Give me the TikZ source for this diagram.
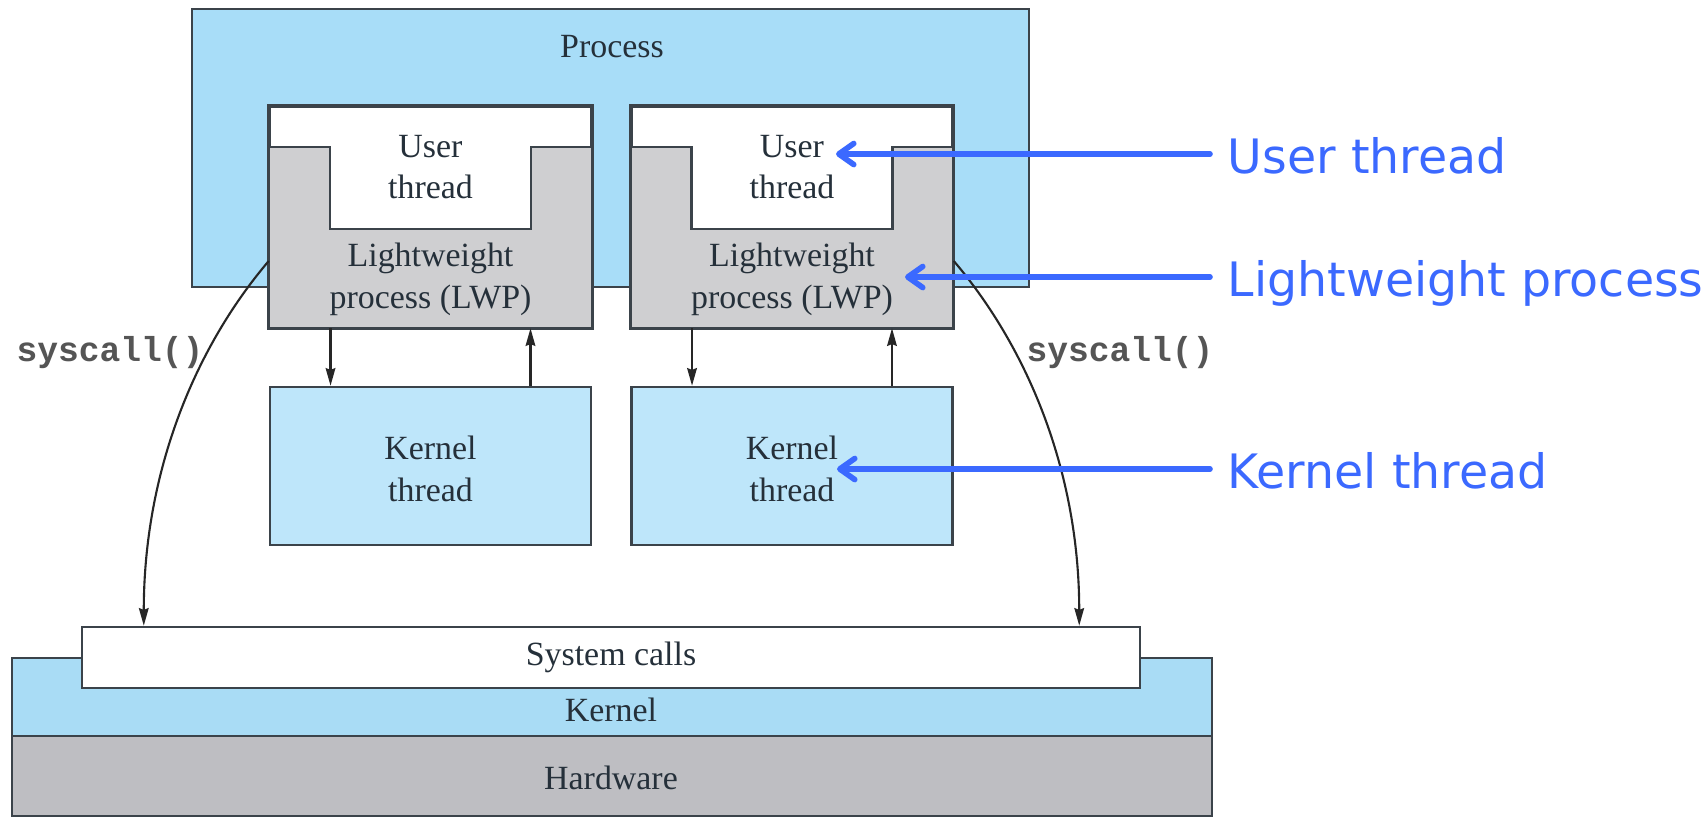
\documentclass[tikz,border=0pt]{standalone}
\usepackage{fontspec}
\setmainfont{Liberation Serif}
\setmonofont{Liberation Mono}
\newfontfamily\notefont{DejaVu Sans}
\usetikzlibrary{arrows.meta,calc}

\definecolor{procblue}{HTML}{A8DDF8}
\definecolor{kthblue}{HTML}{BEE6FA}
\definecolor{kernblue}{HTML}{A9DCF5}
\definecolor{lwpgray}{HTML}{CFCFD1}
\definecolor{hwgray}{HTML}{BEBEC2}
\definecolor{edge}{HTML}{3B434A}
\definecolor{ink}{HTML}{25303A}
\definecolor{note}{HTML}{3B69FF}
\definecolor{codegray}{HTML}{555555}

\begin{document}
\begin{tikzpicture}[x=0.02cm,y=-0.02cm,
  box/.style={draw=edge, line width=1.5pt, inner sep=0pt},
  edgeline/.style={draw=edge, line width=1.5pt, line join=miter},
  serif/.style={font=\fontsize{19.3}{23.8}\selectfont, text=ink, align=center, inner sep=0pt},
  code/.style={font=\ttfamily\bfseries\fontsize{19.7}{24}\selectfont, text=codegray, inner sep=0pt},
  note/.style={font=\notefont\fontsize{27}{32}\selectfont, text=note, anchor=base west,
               inner xsep=10pt, inner ysep=0pt, text height=21.6pt, text depth=0pt},
  arr/.style={draw=black!85, line width=1.2pt, -{Stealth[length=10pt,width=5.5pt,inset=1pt]}},
  noteline/.style={draw=note, line width=3.2pt, line cap=round,
                   -{Straight Barb[length=8.5pt,width=12pt,line cap=round,line join=round]}}]

\useasboundingbox (0,0) rectangle (1708,819);
\fill[white] (0,0) rectangle (1708,819);

% process container
\node[box, fill=procblue, minimum width=16.74cm, minimum height=5.56cm] (proc) at (610.5,148) {};
\node[serif] (proct) at (612,47) {Process};

% two lightweight processes, each with its user thread and kernel thread
\foreach \i/\cx in {A/430.5, B/792} {
  \node[box, fill=white, minimum width=6.42cm, minimum height=4.4cm] (lwp\i) at (\cx,217) {};
  \begin{scope}[shift={(\cx,0)}]
    \fill[lwpgray] (-160.5,147) -- (-100.5,147) -- (-100.5,229) -- (100.5,229) -- (100.5,147)
                   -- (160.5,147) -- (160.5,327) -- (-160.5,327) -- cycle;
    \draw[edgeline] (-160.5,147) -- (-100.5,147) -- (-100.5,229) -- (100.5,229) -- (100.5,147) -- (160.5,147);
  \end{scope}
  \draw[edgeline] (lwp\i.north west) rectangle (lwp\i.south east);
  \node[serif] (ut\i) at (\cx,167) {User\\thread};
  \node[serif] (lt\i) at (\cx,279) {Lightweight\\process (LWP)};
  \node[box, fill=kthblue, minimum width=6.42cm, minimum height=3.16cm] (kt\i) at (\cx,466) {};
  \node[serif] (ktt\i) at (\cx,469) {Kernel\\thread};
  \draw[arr] ([xshift=-2cm]lwp\i.south) -- ([xshift=-2cm]kt\i.north);
  \draw[arr] ([xshift=2cm]kt\i.north) -- ([xshift=2cm]lwp\i.south);
}

% kernel, hardware and the system-call interface
\node[box, fill=kernblue, minimum width=24cm, minimum height=1.56cm] (kern) at (612,697) {};
\node[box, fill=hwgray, minimum width=24cm, minimum height=1.6cm] (hw) at (612,776) {};
\node[box, fill=white, minimum width=21.16cm, minimum height=1.22cm] (sys) at (611,657.5) {};
\node[serif] (syst) at (611,657) {System calls};
\node[serif] (kernt) at (611,710) {Kernel};
\node[serif] (hwt) at (611,778) {Hardware};

% system-call paths
\node[code] (scl) at (110,353) {syscall()};
\node[code] (scr) at (1120,353) {syscall()};
\draw[arr] ([yshift=-0.88cm]lwpA.west) .. controls +(-76.5,90) and +(0,-150) .. ([xshift=1.26cm]sys.north west);
\draw[arr] ([yshift=-0.88cm]lwpB.east) .. controls +(76.5,90) and +(0,-150) .. ([xshift=-1.24cm]sys.north east);

% annotations
\node[note] (lblU) at (1210,173) {User thread};
\node[note] (lblL) at (1210,296) {Lightweight process};
\node[note] (lblK) at (1210,488) {Kernel thread};
\coordinate (tipU) at (836,153);
\coordinate (tipL) at (905,277);
\coordinate (tipK) at (837,469);
\draw[noteline] (lblU.west) -- (lblU.west -| tipU);
\draw[noteline] (lblL.west) -- (lblL.west -| tipL);
\draw[noteline] (lblK.west) -- (lblK.west -| tipK);
\end{tikzpicture}
\end{document}
